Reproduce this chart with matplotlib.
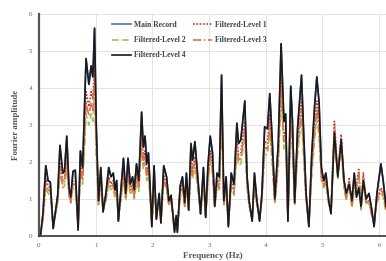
import matplotlib
matplotlib.use("Agg")
import matplotlib.pyplot as plt

plt.rcParams['font.family'] = ['Liberation Serif', 'DejaVu Serif']

# Frekvenssit (Hz)
freq = [0.00, 0.03, 0.07, 0.12, 0.16, 0.20, 0.25, 0.30, 0.33, 0.37,
        0.42, 0.45, 0.49, 0.53, 0.56, 0.60, 0.64, 0.69, 0.73, 0.77,
        0.83, 0.88, 0.92, 0.95, 0.98, 1.01, 1.05, 1.09, 1.13, 1.18,
        1.23, 1.27, 1.31, 1.34, 1.37, 1.40, 1.45, 1.49, 1.53, 1.57,
        1.61, 1.65, 1.68, 1.72, 1.76, 1.81, 1.84, 1.87, 1.90, 1.93,
        1.96, 1.99, 2.03, 2.07, 2.12, 2.15, 2.20, 2.25, 2.29, 2.33,
        2.37, 2.39, 2.42, 2.44, 2.49, 2.53, 2.57, 2.60, 2.64, 2.68,
        2.71, 2.75, 2.79, 2.85, 2.90, 2.94, 2.98, 3.02, 3.06, 3.10,
        3.14, 3.18, 3.22, 3.26, 3.30, 3.34, 3.39, 3.44, 3.49, 3.52,
        3.56, 3.63, 3.67, 3.71, 3.76, 3.80, 3.84, 3.89, 3.93, 3.98,
        4.03, 4.07, 4.11, 4.16, 4.22, 4.27, 4.32, 4.35, 4.39, 4.44,
        4.47, 4.51, 4.56, 4.63, 4.67, 4.71, 4.76, 4.81, 4.86, 4.90,
        4.94, 4.98, 5.02, 5.06, 5.11, 5.15, 5.21, 5.27, 5.33, 5.38,
        5.42, 5.47, 5.52, 5.56, 5.60, 5.64, 5.68, 5.72, 5.77, 5.82,
        5.87, 5.91, 5.96, 6.03, 6.07, 6.12]

main_record = [0.0, 0.05, 0.6, 1.9, 1.5, 1.45, 0.2, 0.75, 1.1, 2.45,
               1.7, 1.75, 2.7, 1.3, 1.05, 1.75, 1.78, 0.16, 2.3, 1.85,
               4.8, 4.1, 4.6, 4.3, 5.62, 3.0, 0.95, 1.85, 0.65, 1.15,
               1.85, 1.6, 1.7, 1.25, 1.5, 0.4, 1.35, 2.1, 1.15, 2.1,
               1.4, 1.6, 1.25, 1.95, 1.5, 3.35, 2.4, 2.7, 1.95, 2.25,
               1.3, 0.25, 1.9, 0.45, 1.15, 0.35, 1.9, 1.6, 0.95, 1.1,
               0.45, 0.1, 0.55, 0.1, 1.35, 1.6, 0.9, 1.7, 0.7, 2.5,
               2.05, 2.55, 1.8, 0.6, 1.85, 0.5, 1.9, 2.7, 2.25, 0.8,
               1.7, 1.6, 4.35, 0.95, 1.6, 0.25, 1.7, 1.4, 3.05, 2.5,
               2.6, 3.65, 1.6, 0.9, 0.4, 1.7, 1.0, 0.4, 1.1, 2.95,
               2.9, 3.85, 2.7, 1.0, 2.5, 5.2, 3.1, 3.3, 0.4, 4.05,
               3.1, 0.9, 2.9, 4.35, 2.7, 1.15, 0.25, 2.2, 3.5, 4.3,
               3.6, 1.85, 1.5, 1.7, 0.95, 0.6, 2.8, 1.6, 2.6, 1.5,
               1.15, 1.4, 0.95, 1.7, 1.05, 1.3, 0.8, 1.5, 1.0, 1.15,
               0.7, 0.25, 1.15, 1.95, 1.5, 0.8]

level_1 = [0.0, 0.05, 0.5, 1.55, 1.35, 1.3, 0.3, 0.7, 1.0, 2.0,
           1.5, 1.55, 2.2, 1.2, 0.95, 1.5, 1.5, 0.3, 1.95, 1.6,
           3.9, 3.5, 3.9, 3.7, 4.6, 2.6, 0.9, 1.6, 0.7, 1.05,
           1.6, 1.4, 1.5, 1.15, 1.3, 0.45, 1.2, 1.8, 1.05, 1.8,
           1.25, 1.4, 1.1, 1.7, 1.35, 2.8, 2.1, 2.3, 1.7, 1.9,
           1.2, 0.35, 1.65, 0.5, 1.05, 0.4, 1.65, 1.4, 0.9, 1.0,
           0.5, 0.2, 0.55, 0.2, 1.2, 1.4, 0.85, 1.5, 0.7, 2.1,
           1.8, 2.15, 1.6, 0.6, 1.6, 0.55, 1.65, 2.3, 1.95, 0.8,
           1.5, 1.4, 3.7, 0.9, 1.4, 0.3, 1.5, 1.25, 2.6, 2.2,
           2.25, 3.1, 1.45, 0.85, 0.45, 1.5, 0.95, 0.45, 1.0, 2.55,
           2.5, 3.3, 2.35, 0.95, 2.2, 4.4, 2.7, 2.85, 0.5, 3.45,
           2.7, 0.9, 2.5, 3.7, 2.35, 1.05, 0.3, 1.9, 3.0, 3.65,
           3.1, 1.7, 1.4, 1.55, 0.9, 0.7, 3.1, 1.7, 2.75, 1.4,
           1.0, 1.55, 0.8, 1.45, 1.4, 1.8, 0.75, 1.7, 0.9, 0.95,
           0.55, 0.4, 1.0, 1.3, 1.2, 0.7]

level_2 = [0.0, 0.05, 0.45, 1.3, 1.15, 1.1, 0.35, 0.65, 0.9, 1.7,
           1.3, 1.35, 1.9, 1.05, 0.9, 1.3, 1.3, 0.35, 1.65, 1.4,
           3.3, 3.0, 3.3, 3.1, 3.9, 2.2, 0.85, 1.4, 0.7, 0.95,
           1.4, 1.25, 1.3, 1.0, 1.15, 0.5, 1.05, 1.55, 0.95, 1.55,
           1.1, 1.25, 1.0, 1.45, 1.2, 2.4, 1.8, 2.0, 1.5, 1.65,
           1.05, 0.4, 1.45, 0.5, 0.95, 0.45, 1.45, 1.25, 0.85, 0.9,
           0.5, 0.25, 0.55, 0.25, 1.05, 1.25, 0.8, 1.3, 0.7, 1.8,
           1.55, 1.85, 1.4, 0.6, 1.4, 0.55, 1.45, 2.0, 1.7, 0.75,
           1.3, 1.25, 3.2, 0.85, 1.25, 0.35, 1.3, 1.1, 2.25, 1.9,
           1.95, 2.7, 1.3, 0.8, 0.5, 1.3, 0.9, 0.5, 0.95, 2.2,
           2.2, 2.85, 2.05, 0.9, 1.9, 3.8, 2.35, 2.5, 0.55, 3.0,
           2.35, 0.85, 2.2, 3.2, 2.05, 1.0, 0.35, 1.65, 2.6, 3.2,
           2.7, 1.5, 1.3, 1.4, 0.85, 0.7, 2.6, 1.55, 2.4, 1.3,
           0.95, 1.4, 0.75, 1.3, 1.25, 1.55, 0.7, 1.5, 0.85, 0.9,
           0.55, 0.4, 0.9, 1.15, 1.05, 0.65]

level_3 = [0.0, 0.05, 0.5, 1.45, 1.25, 1.2, 0.3, 0.7, 0.95, 1.85,
           1.4, 1.45, 2.05, 1.1, 0.9, 1.4, 1.4, 0.3, 1.8, 1.5,
           3.6, 3.25, 3.6, 3.4, 4.3, 2.4, 0.85, 1.5, 0.7, 1.0,
           1.5, 1.3, 1.4, 1.1, 1.2, 0.45, 1.1, 1.7, 1.0, 1.7,
           1.2, 1.3, 1.05, 1.6, 1.3, 2.6, 1.95, 2.15, 1.6, 1.8,
           1.1, 0.35, 1.55, 0.5, 1.0, 0.4, 1.55, 1.3, 0.85, 0.95,
           0.5, 0.2, 0.55, 0.2, 1.1, 1.3, 0.8, 1.4, 0.7, 1.95,
           1.65, 2.0, 1.5, 0.6, 1.5, 0.55, 1.55, 2.15, 1.8, 0.8,
           1.4, 1.3, 3.45, 0.85, 1.3, 0.3, 1.4, 1.15, 2.45, 2.05,
           2.1, 2.9, 1.4, 0.8, 0.45, 1.4, 0.9, 0.45, 1.0, 2.4,
           2.35, 3.1, 2.2, 0.9, 2.05, 4.1, 2.55, 2.7, 0.5, 3.25,
           2.55, 0.85, 2.35, 3.45, 2.2, 1.0, 0.3, 1.8, 2.8, 3.45,
           2.9, 1.6, 1.35, 1.5, 0.9, 0.7, 2.95, 1.65, 2.6, 1.35,
           1.0, 1.5, 0.8, 1.4, 1.35, 1.7, 0.75, 1.6, 0.9, 0.95,
           0.55, 0.4, 0.95, 1.25, 1.15, 0.7]

level_4 = [0.0, 0.05, 0.6, 1.9, 1.5, 1.45, 0.2, 0.75, 1.1, 2.45,
           1.7, 1.75, 2.7, 1.3, 1.05, 1.75, 1.78, 0.16, 2.3, 1.85,
           4.8, 4.1, 4.6, 4.3, 5.62, 3.0, 0.95, 1.85, 0.65, 1.15,
           1.85, 1.6, 1.7, 1.25, 1.5, 0.4, 1.35, 2.1, 1.15, 2.1,
           1.4, 1.6, 1.25, 1.95, 1.5, 3.35, 2.4, 2.7, 1.95, 2.25,
           1.3, 0.25, 1.9, 0.45, 1.15, 0.35, 1.9, 1.6, 0.95, 1.1,
           0.45, 0.1, 0.55, 0.1, 1.35, 1.6, 0.9, 1.7, 0.7, 2.5,
           2.05, 2.55, 1.8, 0.6, 1.85, 0.5, 1.9, 2.7, 2.25, 0.8,
           1.7, 1.6, 4.35, 0.95, 1.6, 0.25, 1.7, 1.4, 3.05, 2.5,
           2.6, 3.65, 1.6, 0.9, 0.4, 1.7, 1.0, 0.4, 1.1, 2.95,
           2.9, 3.85, 2.7, 1.0, 2.5, 5.2, 3.1, 3.3, 0.4, 4.05,
           3.1, 0.9, 2.9, 4.35, 2.7, 1.15, 0.25, 2.2, 3.5, 4.3,
           3.6, 1.85, 1.5, 1.7, 0.95, 0.6, 2.8, 1.6, 2.6, 1.5,
           1.15, 1.4, 0.95, 1.7, 1.05, 1.3, 0.8, 1.5, 1.0, 1.15,
           0.7, 0.25, 1.15, 1.95, 1.5, 0.8]

fig = plt.figure(figsize=(3.86, 2.61), dpi=100)
ax = fig.add_axes([0.101, 0.096, 0.899, 0.85])

h0, = ax.plot(freq, main_record, color='#4472c4', lw=1.2, label='Main Record')
h1, = ax.plot(freq, level_1, color='#c0392b', lw=1.2, ls=(0, (1, 1)), label='Filtered-Level 1')
h2, = ax.plot(freq, level_2, color='#a9c05a', lw=1.2, ls=(0, (4, 2)), label='Filtered-Level 2')
h3, = ax.plot(freq, level_3, color='#e07050', lw=1.2, ls=(0, (5, 1.5, 1, 1.5)), label='Filtered-Level 3')
h4, = ax.plot(freq, level_4, color='#1a1a1a', lw=1.2, label='Filtered-Level 4')

ax.set_xlim(0, 6.12)
ax.set_ylim(0, 6)
ax.set_xticks(range(0, 7))
ax.set_yticks(range(0, 7))
ax.grid(True, color='#e3e3e3', lw=0.7)
ax.set_axisbelow(True)

for s in ['top', 'right']:
    ax.spines[s].set_visible(False)
ax.spines['left'].set_color('#555555')
ax.spines['left'].set_linewidth(1.6)
ax.spines['bottom'].set_color('#333333')
ax.spines['bottom'].set_linewidth(1.2)

ax.tick_params(length=0, labelsize=5, labelcolor='#666666', pad=5)
ax.set_xlabel('Frequency (Hz)', fontsize=6.5, fontweight='bold', color='#555555', labelpad=3)
ax.set_ylabel('Fourier amplitude', fontsize=6.5, fontweight='bold', color='#555555', labelpad=6)

# legendan järjestys riveittäin
handles = [h0, h2, h4, h1, h3]
leg = ax.legend(handles, [h.get_label() for h in handles], ncol=2, loc='upper left',
                bbox_to_anchor=(0.19, 1.0), frameon=False,
                prop={'size': 5.5, 'weight': 'bold'}, handlelength=2.5,
                columnspacing=1.0, labelspacing=0.95, handletextpad=0.4)
for t in leg.get_texts():
    t.set_color('#404040')

fig.savefig('out.png', dpi=100)
